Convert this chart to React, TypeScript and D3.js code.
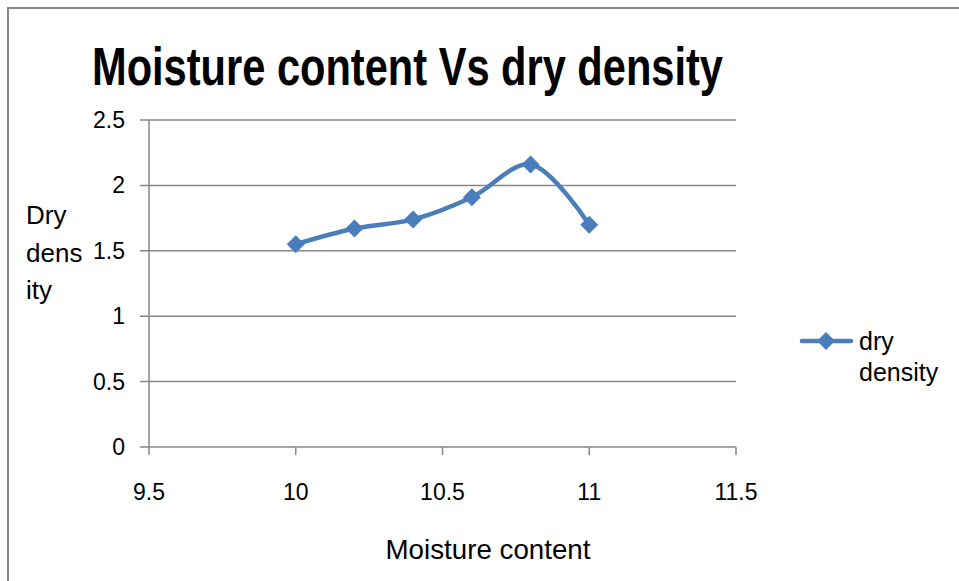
import React from "react";
import * as d3 from "d3";

const moisture = [10, 10.2, 10.4, 10.6, 10.8, 11];
const dryDensity = [1.55, 1.67, 1.74, 1.91, 2.16, 1.7];
const xTicks = [9.5, 10, 10.5, 11, 11.5];
const yTicks = [0, 0.5, 1, 1.5, 2, 2.5];
const title = "Moisture content Vs dry density";
const xTitle = "Moisture content";
const yTitleLines = ["Dry", "dens", "ity"];
const seriesName = ["dry", "density"];

const W = 959, H = 581;
const FONT = "'Liberation Sans', Arial, sans-serif";
const TFONT = "'Liberation Sans Narrow', 'Arial Narrow', 'Liberation Sans', sans-serif";
const COLOR = "#4A7EBB";
const GRID = "#878787";

export default function App() {
  const x = d3.scaleLinear().domain([9.5, 11.5]).range([149, 736]);
  const y = d3.scaleLinear().domain([0, 2.5]).range([447, 120]);
  const pts: [number, number][] = moisture.map((m, i) => [x(m), y(dryDensity[i])]);
  const line = d3.line().curve(d3.curveCatmullRom.alpha(0.5))(pts) || "";
  const diamond = (cx: number, cy: number, r: number) =>
    `M${cx},${cy - r}L${cx + r},${cy}L${cx},${cy + r}L${cx - r},${cy}Z`;

  return (
    <svg width={W} height={H} style={{ position: "absolute", left: 0, top: 0, background: "#fff" }}>
      <rect x={0} y={0} width={W} height={H} fill="#fff" />
      <rect x={8} y={8} width={1200} height={1200} fill="none" stroke={GRID} strokeWidth={2} />
      <text x={92} y={85} fontFamily={TFONT} fontWeight="bold" fontSize={54} fill="#000" textLength={631} lengthAdjust="spacingAndGlyphs">{title}</text>
      {yTicks.map((t) => (
        <g key={"y" + t}>
          <line x1={140} x2={736} y1={y(t)} y2={y(t)} stroke={GRID} strokeWidth={1.5} />
          <text x={125} y={y(t) + 8} textAnchor="end" fontFamily={FONT} fontSize={23} fill="#000">{t}</text>
        </g>
      ))}
      <line x1={149} x2={149} y1={120} y2={447} stroke={GRID} strokeWidth={1.5} />
      {xTicks.map((t) => (
        <g key={"x" + t}>
          <line x1={x(t)} x2={x(t)} y1={447} y2={455} stroke={GRID} strokeWidth={1.5} />
          <text x={x(t)} y={500} textAnchor="middle" fontFamily={FONT} fontSize={23} fill="#000">{t}</text>
        </g>
      ))}
      <text x={488} y={559} textAnchor="middle" fontFamily={FONT} fontSize={28} fill="#000" textLength={205} lengthAdjust="spacingAndGlyphs">{xTitle}</text>
      {yTitleLines.map((s, i) => (
        <text key={s} x={26} y={224 + i * 37.5} fontFamily={FONT} fontSize={26} fill="#000">{s}</text>
      ))}
      <path d={line} fill="none" stroke={COLOR} strokeWidth={4.5} strokeLinejoin="round" strokeLinecap="round" />
      {pts.map(([px, py], i) => (
        <path key={i} d={diamond(px, py, 9)} fill={COLOR} />
      ))}
      <line x1={802} x2={851} y1={341} y2={341} stroke={COLOR} strokeWidth={4.5} strokeLinecap="round" />
      <path d={diamond(826, 341, 9)} fill={COLOR} />
      {seriesName.map((s, i) => (
        <text key={s} x={859} y={350 + i * 31} fontFamily={FONT} fontSize={25} fill="#000">{s}</text>
      ))}
    </svg>
  );
}
